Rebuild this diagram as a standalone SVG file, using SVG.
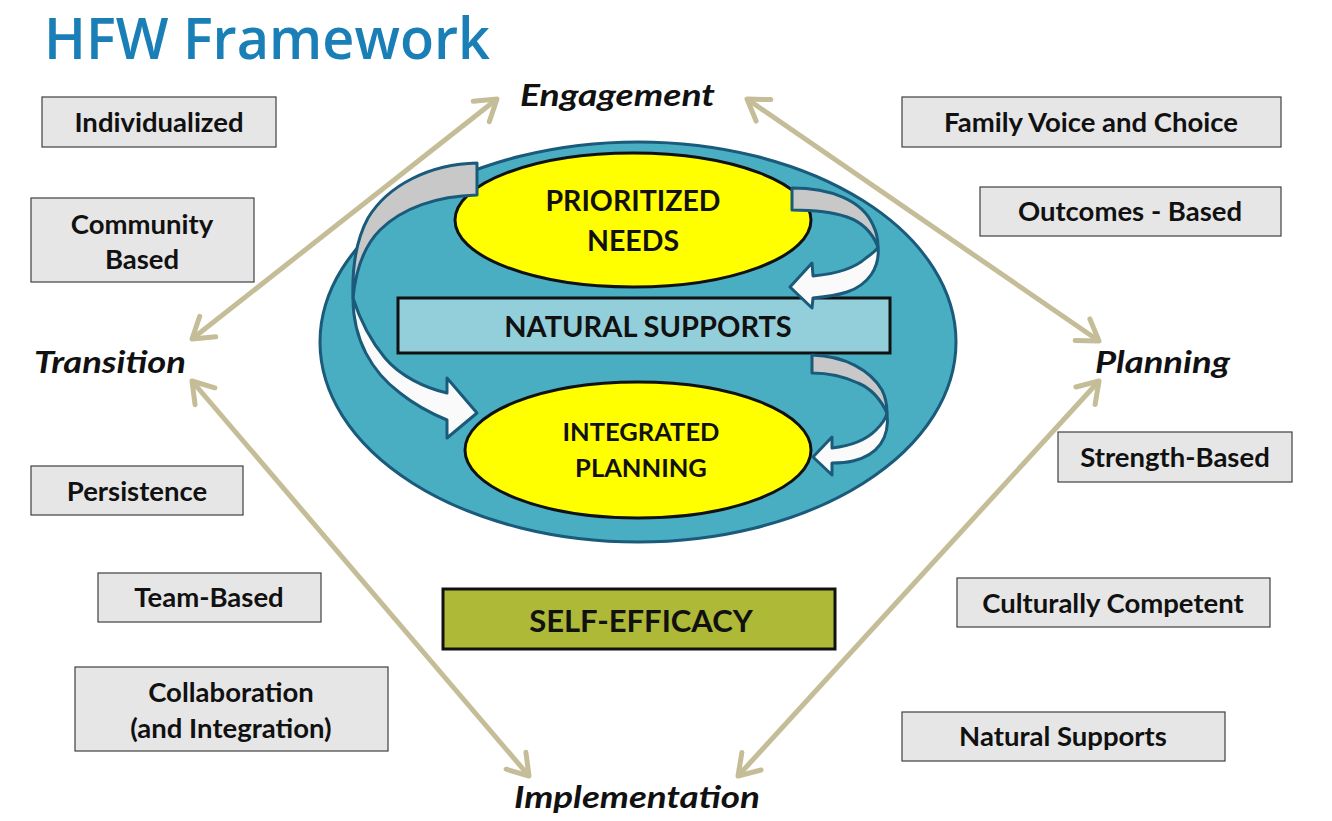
<svg xmlns="http://www.w3.org/2000/svg" width="1332" height="821" viewBox="0 0 1332 821">
<defs>
<style>
.box{fill:#e6e6e6;stroke:#404040;stroke-width:1.2}
.bt{font-family:Lato,"Open Sans",sans-serif;font-weight:700;font-size:27.5px;fill:#111;text-anchor:middle}
.lab{font-family:Lato,"Open Sans",sans-serif;font-weight:700;font-style:italic;font-size:31px;fill:#111}
.ct{font-family:Lato,"Open Sans",sans-serif;font-weight:700;fill:#111;text-anchor:middle}
.con{stroke:#c4bd97;stroke-width:5;fill:none;marker-start:url(#ah);marker-end:url(#ah)}
.rib{fill:#fafafa;stroke:#1a5a7a;stroke-width:3;stroke-linejoin:round}
.back{fill:#c8c8c8;stroke:#1a5a7a;stroke-width:3;stroke-linejoin:round}
</style>
<marker id="ah" viewBox="-30 -20 40 40" markerWidth="40" markerHeight="40" refX="0" refY="0" orient="auto-start-reverse" markerUnits="userSpaceOnUse">
<path d="M-20,-13 L0,0 L-20,13" fill="none" stroke="#c4bd97" stroke-width="5" stroke-linecap="round" stroke-linejoin="round"/>
</marker>
</defs>
<rect width="1332" height="821" fill="#ffffff"/>
<text x="44" y="59" font-family="'Open Sans',Lato,sans-serif" font-weight="600" font-size="57" fill="#1a7fb6" textLength="446" lengthAdjust="spacingAndGlyphs">HFW Framework</text>

<g id="connectors">
<line class="con" x1="192" y1="339" x2="497" y2="99"/>
<line class="con" x1="747" y1="99" x2="1099" y2="341"/>
<line class="con" x1="192" y1="381" x2="529" y2="776"/>
<line class="con" x1="1099" y1="381" x2="738" y2="776"/>
</g>

<g id="outer-ellipse"><ellipse cx="638" cy="342" rx="318" ry="200" fill="#4aaec2" stroke="#1a5a7a" stroke-width="3"/></g>

<g id="prioritized-needs">
<ellipse cx="633" cy="220" rx="178" ry="67" fill="#ffff00" stroke="#111" stroke-width="3"/>
<text class="ct" x="633" y="211" font-size="28.5">PRIORITIZED</text>
<text class="ct" x="633" y="251" font-size="28.5">NEEDS</text>
</g>

<g id="integrated-planning">
<ellipse cx="638" cy="450" rx="173" ry="68" fill="#ffff00" stroke="#111" stroke-width="3"/>
<text class="ct" x="641" y="441" font-size="25.5">INTEGRATED</text>
<text class="ct" x="641" y="477" font-size="25.5">PLANNING</text>
</g>

<g id="natural-supports-center">
<rect x="398" y="298" width="492" height="55" fill="#93cfda" stroke="#111" stroke-width="3"/>
<text class="ct" x="648" y="337" font-size="29">NATURAL SUPPORTS</text>
</g>

<g id="curved-arrow-left">
<path class="back" d="M477,163 C430,164 388,185 368,218 C356,240 352,268 353,298 C356,268 365,245 380,230 C402,208 437,196 477,195 Z"/>
<path class="rib" d="M353,298 C353,340 372,372 400,393 C415,405 430,413 447,420 L447,438 L477,413 L447,378 L447,393 C425,388 400,376 385,358 C370,340 360,320 353,298 Z"/>
</g>

<g id="curved-arrow-right-top">
<path class="back" d="M792,188 C830,188 862,200 873,225 C877,233 878,240 878,247 C872,232 862,222 847,217 C830,211 812,210 792,210 Z"/>
<path class="rib" d="M878,247 C880,268 868,285 847,292 C835,296 824,297 813,298 L812,308 L790,287 L812,263 L813,276 C835,274 855,268 866,258 C873,253 877,250 878,247 Z"/>
</g>

<g id="curved-arrow-right-bottom">
<path class="back" d="M812,355 C845,356 870,370 882,390 C886,398 887,405 887,413 C880,398 870,388 858,383 C843,376 830,373 812,373 Z"/>
<path class="rib" d="M887,413 C890,438 878,455 853,461 C845,463 838,463 832,463 L832,475 L813,457 L832,437 L832,448 C850,446 866,440 876,430 C882,424 886,418 887,413 Z"/>
</g>

<g id="self-efficacy">
<rect x="443" y="589" width="392" height="60" fill="#adb937" stroke="#111" stroke-width="3"/>
<text class="ct" x="641" y="632" font-size="31">SELF-EFFICACY</text>
</g>

<g id="engagement"><text class="lab" x="520" y="106" textLength="195" lengthAdjust="spacingAndGlyphs">Engagement</text></g>
<g id="transition"><text class="lab" x="34" y="373" textLength="152" lengthAdjust="spacingAndGlyphs">Transition</text></g>
<g id="planning"><text class="lab" x="1095" y="373" textLength="135" lengthAdjust="spacingAndGlyphs">Planning</text></g>
<g id="implementation"><text class="lab" x="514" y="808" textLength="246" lengthAdjust="spacingAndGlyphs">Implementation</text></g>

<g id="individualized"><rect class="box" x="42" y="97" width="234" height="50"/><text class="bt" x="159" y="132">Individualized</text></g>
<g id="community-based"><rect class="box" x="31" y="198" width="223" height="84"/><text class="bt" x="142" y="234">Community</text><text class="bt" x="142" y="269">Based</text></g>
<g id="persistence"><rect class="box" x="31" y="466" width="212" height="49"/><text class="bt" x="137" y="501">Persistence</text></g>
<g id="team-based"><rect class="box" x="98" y="573" width="223" height="49"/><text class="bt" x="209" y="607">Team-Based</text></g>
<g id="collaboration"><rect class="box" x="75" y="667" width="313" height="84"/><text class="bt" x="231" y="702">Collaboration</text><text class="bt" x="231" y="738">(and Integration)</text></g>
<g id="family-voice"><rect class="box" x="902" y="97" width="379" height="50"/><text class="bt" x="1091" y="132">Family Voice and Choice</text></g>
<g id="outcomes-based"><rect class="box" x="980" y="187" width="301" height="49"/><text class="bt" x="1130" y="221">Outcomes - Based</text></g>
<g id="strength-based"><rect class="box" x="1058" y="432" width="234" height="50"/><text class="bt" x="1175" y="467">Strength-Based</text></g>
<g id="culturally-competent"><rect class="box" x="957" y="578" width="313" height="49"/><text class="bt" x="1113" y="613">Culturally Competent</text></g>
<g id="natural-supports"><rect class="box" x="902" y="712" width="323" height="49"/><text class="bt" x="1063" y="746">Natural Supports</text></g>
</svg>
